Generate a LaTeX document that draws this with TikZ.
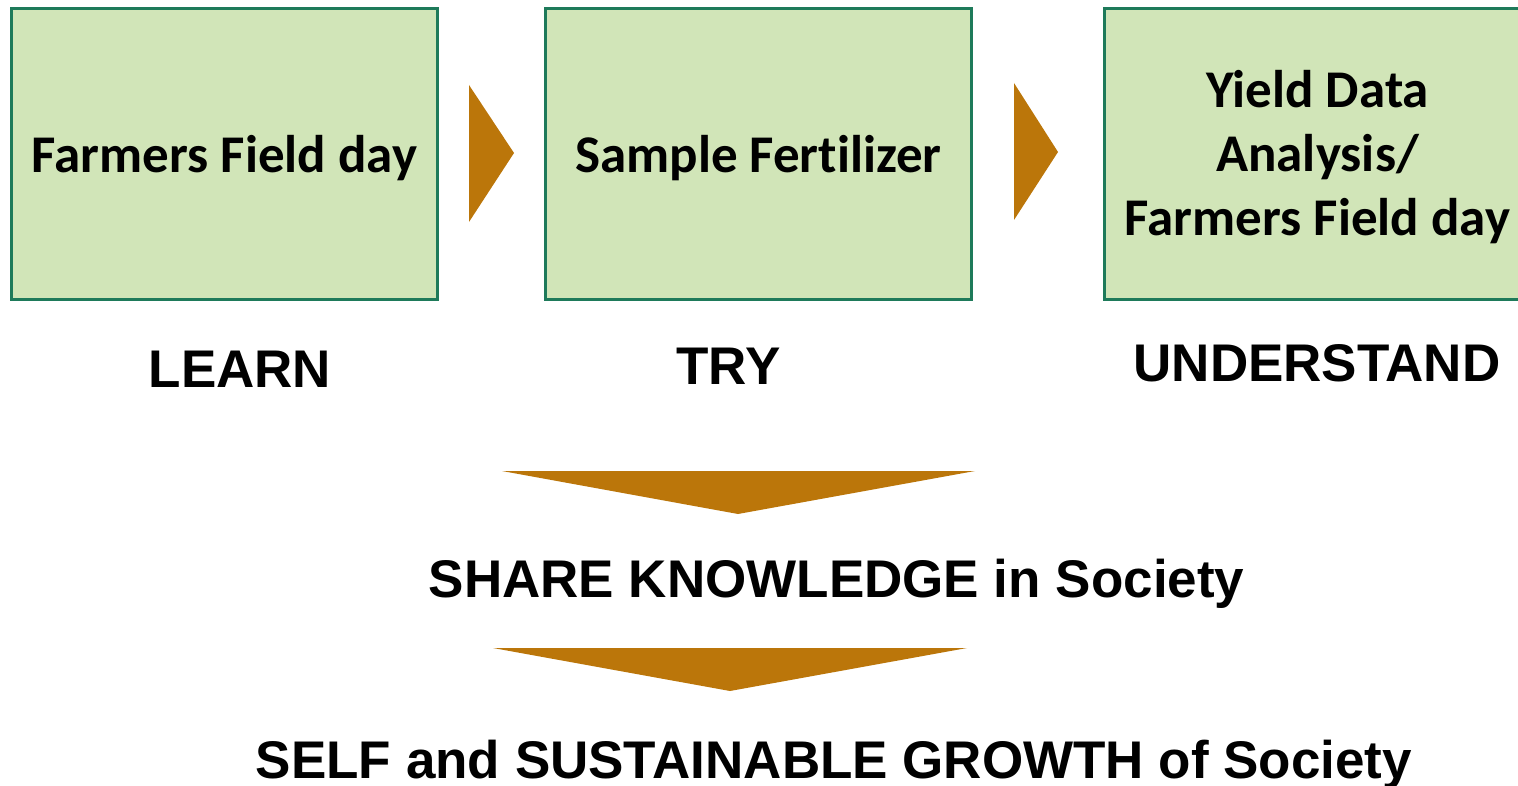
\documentclass[tikz,border=0pt]{standalone}
\usepackage{fontspec}
\setmainfont{Liberation Sans}
\newfontfamily\boxfont{Carlito}[Ligatures=NoCommon]
\definecolor{boxfill}{RGB}{209,229,184}
\definecolor{boxline}{RGB}{30,122,90}
\definecolor{chevron}{RGB}{187,118,10}
\tikzset{
  stage/.style={draw=boxline, fill=boxfill, line width=3pt,
    minimum width=426pt, minimum height=291pt, inner sep=0pt,
    font=\boxfont\bfseries\fontsize{53}{64}\selectfont},
  oneline/.style={text height=40pt, text depth=2pt},
  threelines/.style={align=center, text height=168pt, text depth=4pt},
  caption/.style={anchor=base, inner sep=0pt,
    font=\bfseries\fontsize{53}{64}\selectfont},
  pointer/.style={fill=chevron, draw=none}
}
\begin{document}
\begin{tikzpicture}[x=1pt, y=-1pt]
  \useasboundingbox (0,0) rectangle (1518,786);
  \clip (0,0) rectangle (1518,786);

  % the three stage boxes
  \node[stage, oneline] (learnbox) at (224.5,154) {Farmers Field day};
  \node[stage, oneline] (trybox)   at (758.5,154) {Sample Fertilizer};
  \node[stage, threelines] (understandbox) at (1317.5,154)
    {Yield Data\\Analysis/\\Farmers Field day};

  % pointers between the stages
  \fill[pointer] (469,85) -- (514,153) -- (469,222) -- cycle;
  \fill[pointer] (1014,83) -- (1058,152) -- (1014,220) -- cycle;

  % stage captions
  \node[caption] (learn) at (240,387) {LEARN};
  \node[caption] (try) at (728.5,384) {TRY};
  \node[caption] (understand) at (1317,381) {UNDERSTAND};

  % downward pointers and outcomes
  \fill[pointer] (502,471) -- (975,471) -- (738,514) -- cycle;
  \node[caption] (share) at (836.5,597) {SHARE KNOWLEDGE in Society};
  \fill[pointer] (493,648) -- (967,648) -- (730,691) -- cycle;
  \node[caption] (growth) at (834,778) {SELF and SUSTAINABLE GROWTH of Society};
\end{tikzpicture}
\end{document}
